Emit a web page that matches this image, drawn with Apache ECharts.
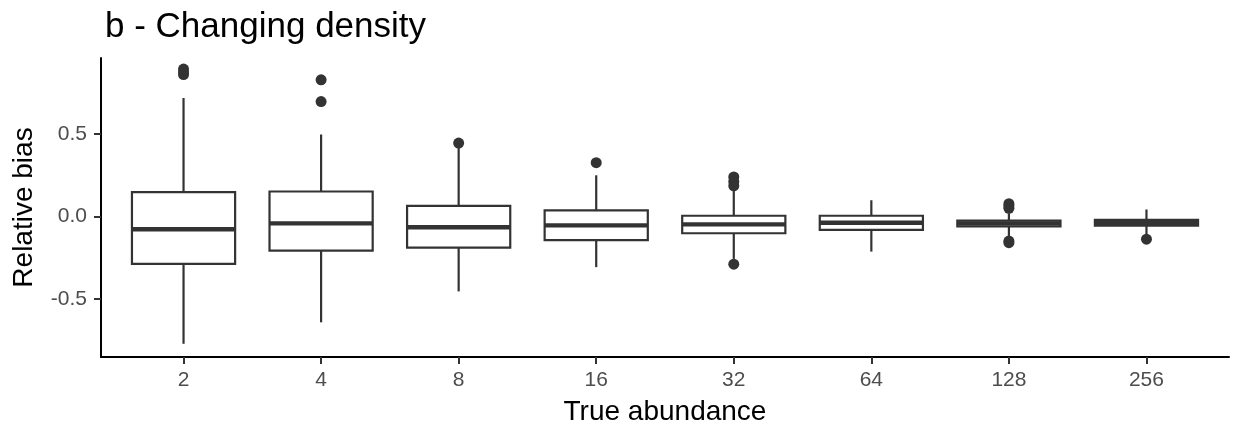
<!DOCTYPE html>
<html>
<head>
<meta charset="utf-8">
<script src="https://cdn.jsdelivr.net/npm/echarts@6/dist/echarts.min.js"></script>
<style>
html,body{margin:0;padding:0;background:#fff;}
#chart{width:1235px;height:432px;}
</style>
</head>
<body>
<div id="chart"></div>
<script>
// ---- data ----
const categories = ['2', '4', '8', '16', '32', '64', '128', '256'];
const whiskerLow  = [-0.770, -0.640, -0.453, -0.306, -0.256, -0.212, -0.120, -0.115];
const quartile1   = [-0.286, -0.206, -0.188, -0.143, -0.101, -0.080, -0.060, -0.055];
const medians     = [-0.077, -0.041, -0.065, -0.053, -0.047, -0.037, -0.042, -0.037];
const quartile3   = [ 0.148,  0.152,  0.065,  0.037,  0.005,  0.005, -0.025, -0.020];
const whiskerHigh = [ 0.718,  0.497,  0.415,  0.250,  0.170,  0.099,  0.020,  0.043];
// outliers: category index (0-based) and value
const outlierCat = [0, 0, 0, 1, 1, 2, 3, 4, 4, 4, 4, 6, 6, 6, 6, 6, 7];
const outlierVal = [0.893, 0.875, 0.860, 0.828, 0.696, 0.445, 0.326, 0.240, 0.212, 0.186, -0.288, 0.078, 0.064, 0.050, -0.148, -0.158, -0.137];
const yTicks = [-0.5, 0.0, 0.5];

// ---- build ----
const BOX_W = 0.75;
const X_MIN = 0.4, X_MAX = 8.6, Y_MIN = -0.85, Y_MAX = 0.96;
const boxData = categories.map((c, i) => [i + 1, whiskerLow[i], quartile1[i], medians[i], quartile3[i], whiskerHigh[i]]);
const outlierData = outlierCat.map((c, i) => [c + 1, outlierVal[i]]);
const catPos = categories.map((c, i) => i + 1);
const FONT = '"Liberation Sans", Arial, sans-serif';
const INK = '#333333';
const TICK_LEN = 7;

const chart = echarts.init(document.getElementById('chart'));
chart.setOption({
  animation: false,
  backgroundColor: '#ffffff',
  title: {
    text: 'b - Changing density',
    left: 100, top: 5,
    textStyle: {fontFamily: FONT, fontSize: 35, fontWeight: 'normal', color: '#000'}
  },
  grid: {left: 101, right: 6, top: 58, bottom: 75},
  xAxis: {
    type: 'value', min: X_MIN, max: X_MAX,
    name: 'True abundance', nameLocation: 'middle', nameGap: 41,
    nameTextStyle: {fontFamily: FONT, fontSize: 28, color: '#000'},
    axisLine: {show: true, onZero: false, lineStyle: {color: '#000', width: 2}},
    axisTick: {show: true, customValues: catPos.slice(), length: TICK_LEN, lineStyle: {color: INK, width: 2}},
    axisLabel: {
      show: true, customValues: catPos.slice(), margin: 13,
      fontFamily: FONT, fontSize: 21, color: '#4d4d4d',
      formatter: v => categories[Math.round(v) - 1]
    },
    splitLine: {show: false}
  },
  yAxis: {
    type: 'value', min: Y_MIN, max: Y_MAX,
    name: 'Relative bias', nameLocation: 'middle', nameGap: 63, nameRotate: 90,
    nameTextStyle: {fontFamily: FONT, fontSize: 28, color: '#000'},
    axisLine: {show: true, onZero: false, lineStyle: {color: '#000', width: 2}},
    axisTick: {show: true, customValues: yTicks.slice(), length: TICK_LEN, lineStyle: {color: INK, width: 2}},
    axisLabel: {
      show: true, customValues: yTicks.slice(), margin: 14,
      fontFamily: FONT, fontSize: 21, color: '#4d4d4d',
      formatter: v => Number(v).toFixed(1)
    },
    splitLine: {show: false}
  },
  series: [
    {
      type: 'custom',
      data: boxData,
      encode: {x: 0, y: [1, 2, 3, 4, 5]},
      z: 2,
      renderItem: function (params, api) {
        const x = api.value(0);
        const lo = api.value(1), q1 = api.value(2), med = api.value(3), q3 = api.value(4), hi = api.value(5);
        const hw = BOX_W / 2;
        const tl = api.coord([x - hw, q3]);
        const br = api.coord([x + hw, q1]);
        const mL = api.coord([x - hw, med]);
        const mR = api.coord([x + hw, med]);
        const pHi = api.coord([x, hi]);
        const pQ3 = api.coord([x, q3]);
        const pQ1 = api.coord([x, q1]);
        const pLo = api.coord([x, lo]);
        return {
          type: 'group',
          children: [
            {type: 'line', shape: {x1: pHi[0], y1: pHi[1], x2: pQ3[0], y2: pQ3[1]}, style: {stroke: INK, lineWidth: 2.2}},
            {type: 'line', shape: {x1: pQ1[0], y1: pQ1[1], x2: pLo[0], y2: pLo[1]}, style: {stroke: INK, lineWidth: 2.2}},
            {type: 'rect', shape: {x: tl[0], y: tl[1], width: br[0] - tl[0], height: br[1] - tl[1]},
             style: {fill: '#ffffff', stroke: INK, lineWidth: 2.2}},
            {type: 'line', shape: {x1: mL[0], y1: mL[1], x2: mR[0], y2: mR[1]}, style: {stroke: INK, lineWidth: 4.4}}
          ]
        };
      }
    },
    {
      type: 'scatter',
      data: outlierData,
      symbol: 'circle',
      symbolSize: 11,
      z: 3,
      itemStyle: {color: INK, opacity: 1}
    }
  ]
});
</script>
</body>
</html>
